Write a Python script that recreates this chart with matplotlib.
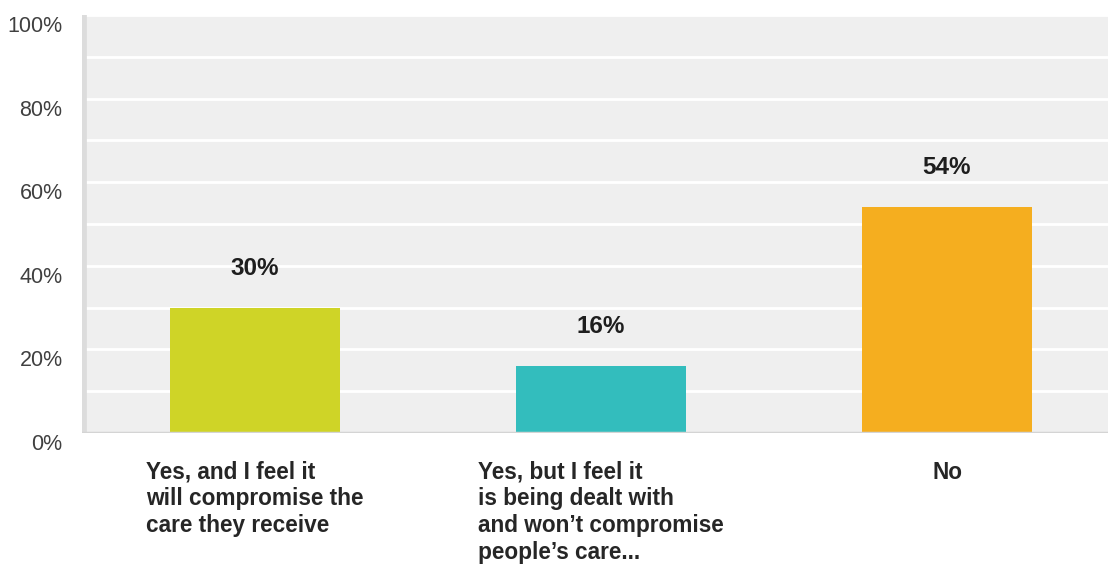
import matplotlib.pyplot as plt
from matplotlib.transforms import ScaledTranslation

plt.rcParams['font.family'] = ['Liberation Sans', 'DejaVu Sans']

categories = [
    "Yes, and I feel it\nwill compromise the\ncare they receive",
    "Yes, but I feel it\nis being dealt with\nand won\u2019t compromise\npeople\u2019s care...",
    "No",
]
values = [30, 16, 54]
colors = ['#cfd427', '#33bdbd', '#f5ae1f']
ytick_vals = [0, 20, 40, 60, 80, 100]

fig = plt.figure(figsize=(11.08, 5.64), dpi=100)
ax = fig.add_axes([82 / 1108, 1 - 433 / 564, 1038 / 1108, 418 / 564])
ax.set_facecolor('#efefef')

x = range(len(values))
ax.bar(x, values, width=0.49, color=colors, zorder=3)

ax.set_xlim(-0.5, 2.5)
ax.set_ylim(0, 100)

# white gridlines every 10%
for g in range(10, 101, 10):
    ax.axhline(g, color='white', lw=2, zorder=1)

# side wall and floor
ax.axvline(-0.5, color='#dcdcdc', lw=7, zorder=2)
ax.axhline(0, color='#d4d4d4', lw=2.5, zorder=4)

for s in ax.spines.values():
    s.set_visible(False)

ax.set_yticks(ytick_vals)
ax.set_yticklabels([f"{v}%" for v in ytick_vals], fontsize=15.5, color='#404040')
ax.tick_params(axis='y', length=0, pad=14)
shift = ScaledTranslation(0, -9 / 100, fig.dpi_scale_trans)
for lbl in ax.get_yticklabels():
    lbl.set_transform(lbl.get_transform() + shift)

ax.set_xticks([])
for i, (cat, v) in enumerate(zip(categories, values)):
    ax.text(i, v + 9.4, f"{v}%", ha='center', va='center', fontsize=17.5,
            fontweight='bold', color='#1e1e1e')
    ax.annotate(cat, xy=(i, 0), xycoords='data', xytext=(0, -20),
                textcoords='offset points', ha='center', va='top',
                multialignment='left', fontsize=16.3, fontweight='bold',
                color='#262626', linespacing=1.2, annotation_clip=False)

fig.savefig('out.png', dpi=100)
